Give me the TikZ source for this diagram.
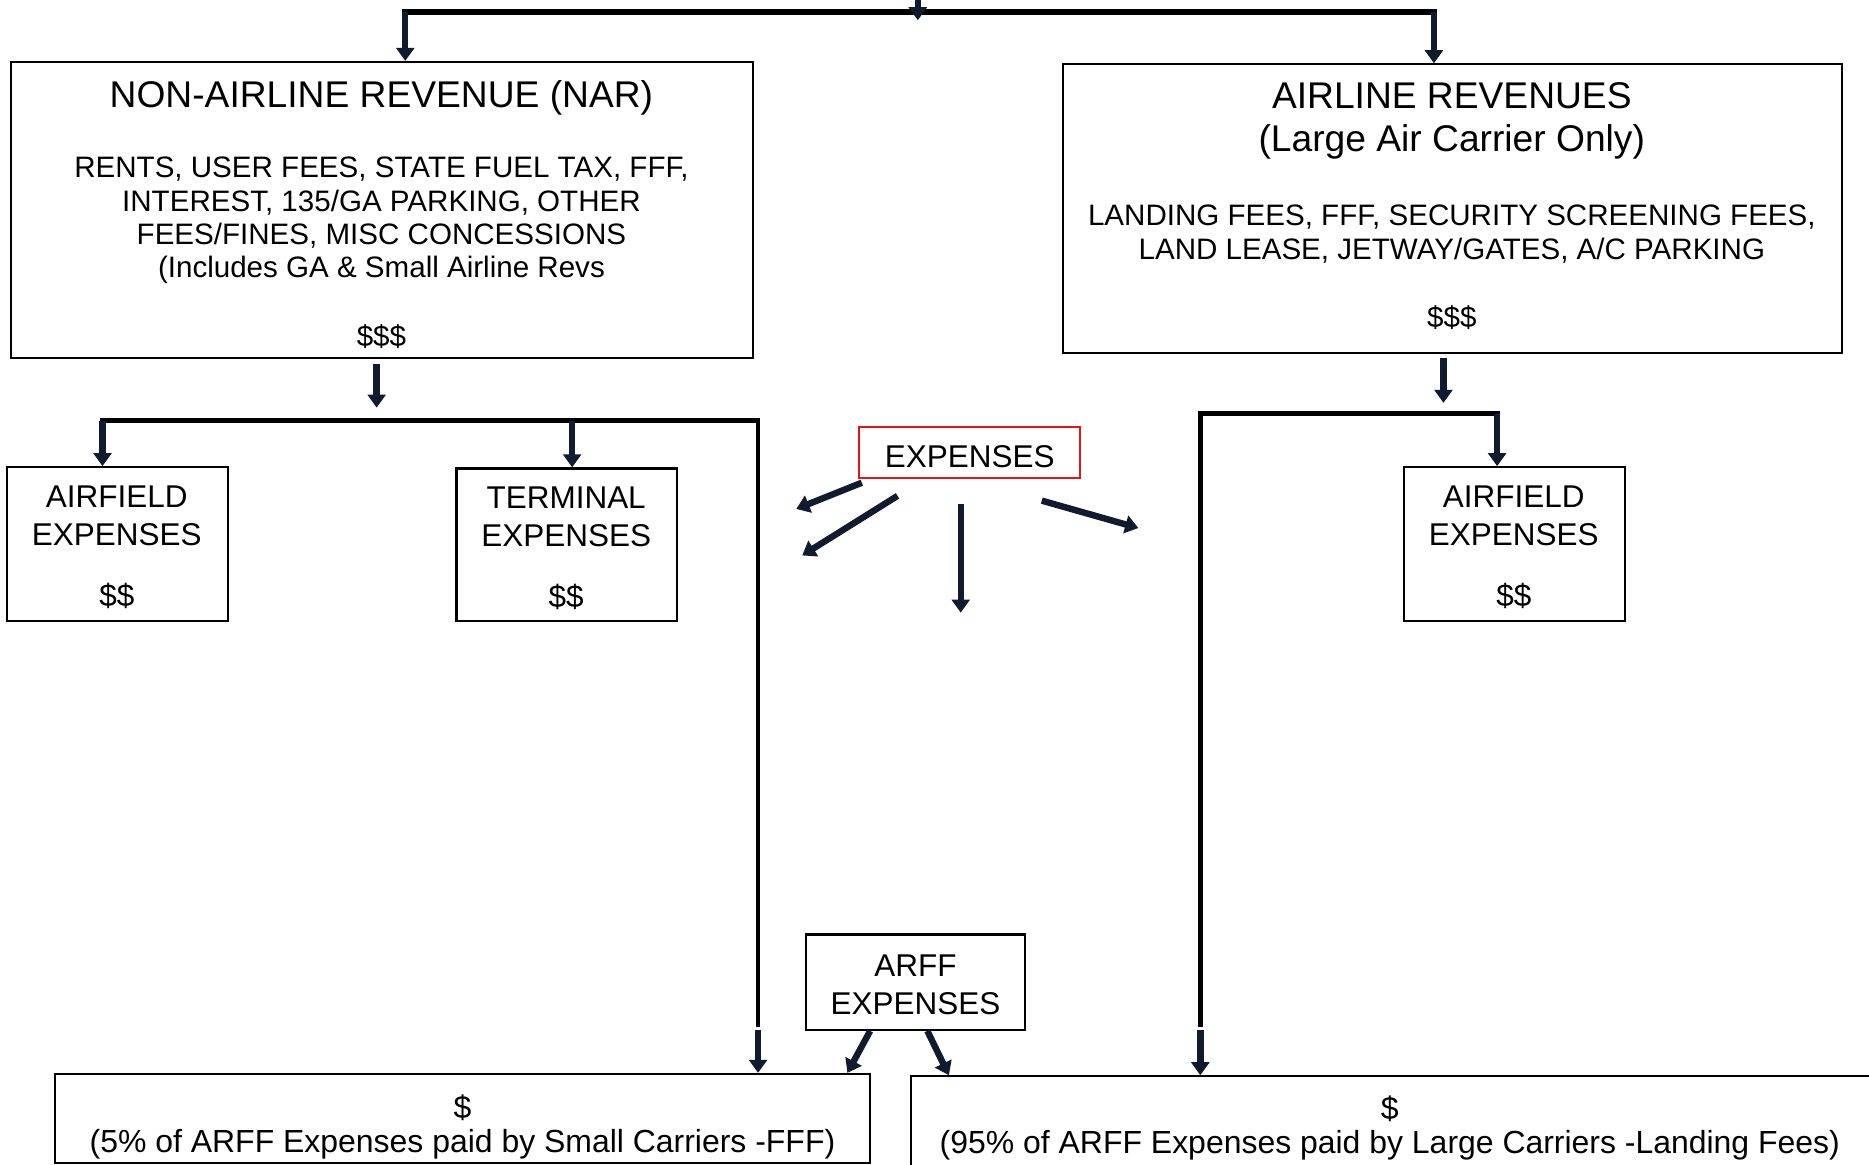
\documentclass[tikz,border=0pt]{standalone}
\usepackage{fontspec}
\setmainfont{Liberation Sans}
\usetikzlibrary{arrows.meta}
\definecolor{arrowc}{RGB}{16,27,48}
\definecolor{boxred}{RGB}{230,20,20}
\tikzset{every picture/.style={line width=0.75pt}}
\tikzset{
	box/.style={draw, line width=0.9pt, inner sep=0pt, align=center},
	redbox/.style={box, draw=boxred},
	title/.style={align=center, font=\fontsize{15.6}{18}\selectfont},
	body/.style={align=center, font=\fontsize{12.4}{14}\selectfont},
	label/.style={align=center, font=\fontsize{13.2}{16}\selectfont},
	share/.style={align=center, font=\fontsize{13.4}{14.5}\selectfont},
	bar/.style={line width=2pt, line cap=rect},
	arr/.style={line width=2.7pt, draw=arrowc, -{Triangle[width=7.5pt,length=5.5pt]}}}

\begin{document}
\begin{tikzpicture}[x=0.5pt,y=0.5pt,yscale=-1,xscale=1]
	\useasboundingbox (0,0) rectangle (1568,977);
	\clip (0,0) rectangle (1568,977);

	%Shape: Rectangle
	\node [box, minimum width=311.5pt, minimum height=124pt] (nar) at (320.5,176) {};
	%Shape: Rectangle
	\node [box, minimum width=326.5pt, minimum height=121pt] (air) at (1218.5,175) {};
	%Shape: Rectangle
	\node [box, minimum width=92.5pt, minimum height=64.5pt] (afl) at (98.5,456.5) {};
	%Shape: Rectangle
	\node [box, minimum width=92.5pt, minimum height=64pt] (term) at (475.5,457) {};
	%Shape: Rectangle
	\node [redbox, label, text height=13pt, minimum width=92.5pt, minimum height=21.5pt] (exp) at (813.5,379.5) {EXPENSES};
	%Shape: Rectangle
	\node [box, minimum width=92.5pt, minimum height=64.5pt] (afr) at (1270.5,456.5) {};
	%Shape: Rectangle
	\node [box, minimum width=92pt, minimum height=40pt] (arff) at (768,824) {};
	%Shape: Rectangle
	\node [box, minimum width=342pt, minimum height=37.5pt] (small) at (388,938.5) {};
	%Shape: Rectangle
	\node [box, minimum width=408pt, minimum height=43.5pt] (large) at (1172,946.5) {};

	% Text Node
	\node [title] (nartitle) at (320,82.5) {NON-AIRLINE REVENUE (NAR)};
	% Text Node
	\node [body] (nartext) at (320,185) {RENTS, USER FEES, STATE FUEL TAX, FFF,\\INTEREST, 135/GA PARKING, OTHER\\FEES/FINES, MISC CONCESSIONS\\(Includes GA \& Small Airline Revs};
	% Text Node
	\node [body] (narsum) at (320,282.5) {\$\$\$};
	% Text Node
	\node [title] (airtitle) at (1218,101.5) {AIRLINE REVENUES\\(Large Air Carrier Only)};
	% Text Node
	\node [body] (airtext) at (1218,196.5) {LANDING FEES, FFF, SECURITY SCREENING FEES,\\LAND LEASE, JETWAY/GATES, A/C PARKING};
	% Text Node
	\node [body] (airsum) at (1218,266.5) {\$\$\$};
	% Text Node
	\node [label] (afltext) at (98,433) {AIRFIELD\\EXPENSES};
	% Text Node
	\node [label] (aflsum) at (98,500) {\$\$};
	% Text Node
	\node [label] (termtext) at (475,433.5) {TERMINAL\\EXPENSES};
	% Text Node
	\node [label] (termsum) at (475,501) {\$\$};
	% Text Node
	\node [label] (afrtext) at (1270,433) {AIRFIELD\\EXPENSES};
	% Text Node
	\node [label] (afrsum) at (1270,500) {\$\$};
	% Text Node
	\node [label] (arfftext) at (768,826) {ARFF\\EXPENSES};
	% Text Node
	\node [share] (smalltext) at (388,945.5) {\$\\(5\% of ARFF Expenses paid by Small Carriers -FFF)};
	% Text Node
	\node [share] (largetext) at (1166,946.5) {\$\\(95\% of ARFF Expenses paid by Large Carriers -Landing Fees)};

	%Straight Lines
	\coordinate (top) at (770,-6);
	\coordinate (topend) at (770,17);
	\coordinate (tl) at (340,10);
	\coordinate (tr) at (1203,10);
	\draw [bar, line width=2.5pt] (tl) -- (tr);
	\draw [arr] (top) -- (topend);
	\draw [arr] (tl) -- (tl |- nar.north);
	\draw [arr] (tr) -- (tr |- air.north);

	%Straight Lines
	\coordinate (nl1) at (316,305);
	\coordinate (nl2) at (316,342);
	\coordinate (bl) at (86,353);
	\coordinate (bm) at (480,353);
	\coordinate (br) at (636,353);
	\coordinate (bd) at (636,860);
	\draw [arr] (nl1) -- (nl2);
	\draw [bar] (bl) -- (br) -- (bd);
	\draw [arr] (bl) -- (bl |- afl.north);
	\draw [arr] (bm) -- (bm |- term.north);
	\draw [arr] ([yshift=2pt]bd) -- (bd |- small.north);

	%Straight Lines
	\coordinate (al1) at (1211,300);
	\coordinate (al2) at (1211,338);
	\coordinate (rl) at (1007,347);
	\coordinate (rr) at (1256,347);
	\coordinate (rd) at (1007,860);
	\draw [arr] (al1) -- (al2);
	\draw [bar] (rr) -- (rl) -- (rd);
	\draw [arr] (rr) -- (rr |- afr.north);
	\draw [arr] ([yshift=2pt]rd) -- (rd |- large.north);

	%Straight Lines
	\coordinate (e1s) at (723,405);
	\coordinate (e1e) at (668,427);
	\coordinate (e2s) at (753,416);
	\coordinate (e2e) at (673,466);
	\coordinate (e3s) at (806,423);
	\coordinate (e3e) at (806,514);
	\coordinate (e4s) at (874,420);
	\coordinate (e4e) at (955,443);
	\draw [arr] (e1s) -- (e1e);
	\draw [arr] (e2s) -- (e2e);
	\draw [arr] (e3s) -- (e3e);
	\draw [arr] (e4s) -- (e4e);

	%Straight Lines
	\draw [arr] ([xshift=-19pt]arff.south) -- ([xshift=-10pt]small.north east);
	\draw [arr] ([xshift=5pt]arff.south) -- ([xshift=16.5pt]large.north west);

\end{tikzpicture}
\end{document}
